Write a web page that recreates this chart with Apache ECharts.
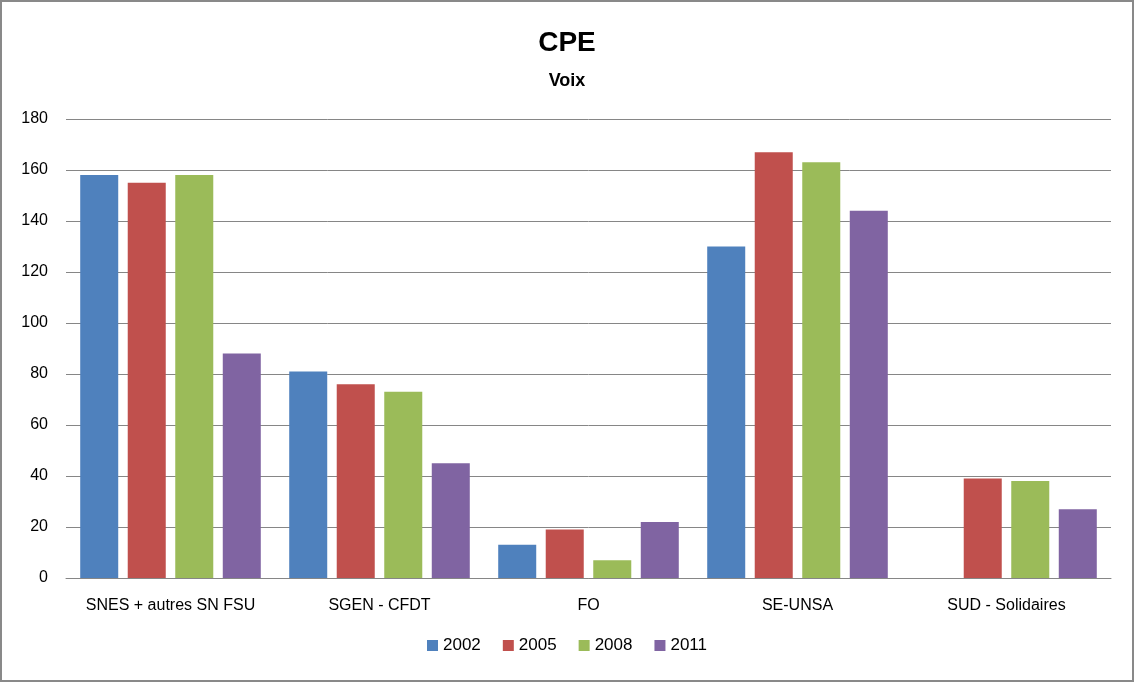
<!DOCTYPE html>
<html><head><meta charset="utf-8">
<script src="https://cdn.jsdelivr.net/npm/echarts@6/dist/echarts.min.js"></script>
<style>html,body{margin:0;padding:0;background:#fff}#c{width:1134px;height:682px}</style>
</head><body><div id="c"></div>
<script>
const categories = ['SNES + autres SN FSU', 'SGEN - CFDT', 'FO', 'SE-UNSA', 'SUD - Solidaires'];
const years = ['2002', '2005', '2008', '2011'];
const v2002 = [158, 81, 13, 130, null];
const v2005 = [155, 76, 19, 167, 39];
const v2008 = [158, 73, 7, 163, 38];
const v2011 = [88, 45, 22, 144, 27];
const colors = ['#4F81BD', '#C0504D', '#9BBB59', '#8064A2'];
const seriesValues = [v2002, v2005, v2008, v2011];
const font = 'Liberation Sans, Arial, sans-serif';
const chart = echarts.init(document.getElementById('c'));
chart.setOption({
  animation: false,
  color: colors,
  title: [
    {text: 'CPE', left: 'center', top: 24, textStyle: {fontFamily: font, fontSize: 28, fontWeight: 'bold', color: '#000'}},
    {text: 'Voix', left: 'center', top: 67, textStyle: {fontFamily: font, fontSize: 18, fontWeight: 'bold', color: '#000'}}
  ],
  graphic: [{type: 'rect', shape: {x: 1, y: 1, width: 1132, height: 680}, style: {fill: null, stroke: '#898989', lineWidth: 2}, silent: true}],
  legend: {
    bottom: 23, left: 'center', itemWidth: 11, itemHeight: 11, itemGap: 22, icon: 'rect',
    textStyle: {fontFamily: font, fontSize: 17, color: '#000'}
  },
  grid: {left: 66, right: 23, top: 119, bottom: 104, containLabel: false},
  xAxis: {
    type: 'category', data: categories,
    axisLine: {lineStyle: {color: '#868686'}}, axisTick: {show: false},
    axisLabel: {fontFamily: font, fontSize: 16, color: '#000', margin: 20, interval: 0}
  },
  yAxis: {
    type: 'value', min: 0, max: 180, interval: 20,
    axisLine: {show: false}, axisTick: {show: false},
    axisLabel: {fontFamily: font, fontSize: 16, color: '#000', margin: 18},
    splitLine: {lineStyle: {color: '#868686', width: 1}}
  },
  series: years.map((y, i) => ({
    name: y, type: 'bar', data: seriesValues[i],
    barGap: '25%', barCategoryGap: '13.6%'
  }))
});
</script></body></html>
